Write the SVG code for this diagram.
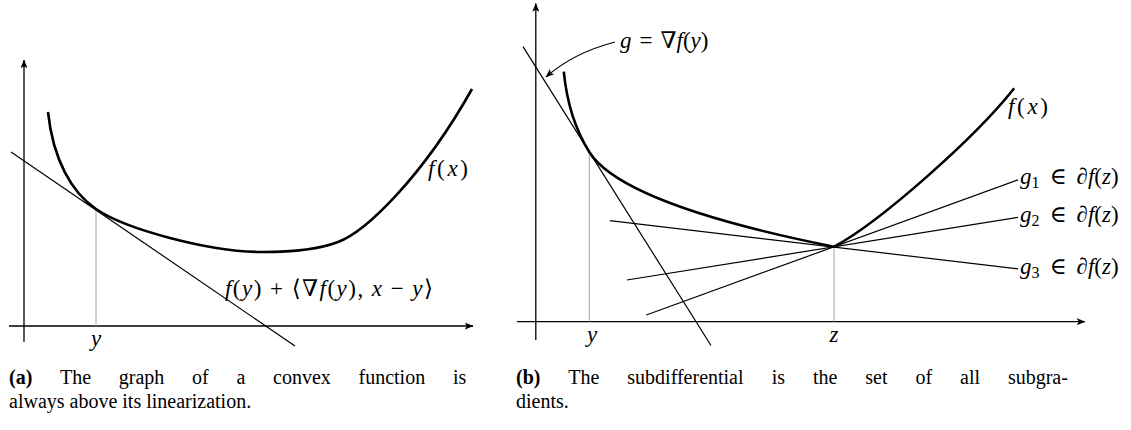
<svg xmlns="http://www.w3.org/2000/svg" width="1131" height="430" viewBox="0 0 1131 430">
<style>
.ax{stroke:#000;stroke-width:1.3;fill:none}
.cv{stroke:#000;stroke-width:2.6;fill:none}
.ln{stroke:#000;stroke-width:1.2;fill:none}
.gr{stroke:#9a9a9a;stroke-width:0.9;fill:none}
.m{font-family:"Liberation Serif","DejaVu Serif",serif;font-size:23px;fill:#000}
.i{font-style:italic}
.sub{font-size:16px}
.cap{font-family:"Liberation Serif","DejaVu Serif",serif;font-size:20px;fill:#000}
.b{font-weight:bold}
</style>
<defs>
<marker id="ah" viewBox="0 0 10 8" refX="9.5" refY="4" markerWidth="9" markerHeight="7" orient="auto" markerUnits="userSpaceOnUse">
<path d="M0,0 L10,4 L0,8 L2.5,4 z" fill="#000"/>
</marker>
</defs>

<g id="panel-a">
  <g id="a-axes">
    <line class="ax" x1="9" y1="326" x2="473" y2="326" marker-end="url(#ah)"/>
    <line class="ax" x1="24" y1="342" x2="24" y2="60" marker-end="url(#ah)"/>
  </g>
  <g id="a-connectors">
    <line class="gr" x1="96" y1="209" x2="96" y2="326"/>
    <line class="ln" x1="11" y1="152" x2="295" y2="346"/>
  </g>
  <g id="a-curve">
    <path class="cv" d="M48,112 C53,160 72,192.6 96,209 C126,229.5 210,252 263,252 C300,252 325,247 338,242 C365,232 422,178 472,89"/>
  </g>
  <g id="a-labels">
    <text class="m" x="428" y="176" textLength="40" lengthAdjust="spacing"><tspan class="i">f</tspan>(<tspan class="i">x</tspan>)</text>
    <text class="m" x="225" y="296" textLength="208" lengthAdjust="spacing"><tspan class="i">f</tspan>(<tspan class="i">y</tspan>) + ⟨∇<tspan class="i">f</tspan>(<tspan class="i">y</tspan>), <tspan class="i">x</tspan> − <tspan class="i">y</tspan>⟩</text>
    <text class="m i" x="96" y="346" text-anchor="middle">y</text>
  </g>
  <g id="a-caption">
    <text class="cap" y="384"><tspan x="9" class="b">(a)</tspan><tspan x="60">The</tspan><tspan x="118.8">graph</tspan><tspan x="192">of</tspan><tspan x="236.4">a</tspan><tspan x="273">convex</tspan><tspan x="358.5">function</tspan><tspan x="452.9">is</tspan></text>
    <text class="cap" x="9" y="408">always above its linearization.</text>
  </g>
</g>

<g id="panel-b">
  <g id="b-axes">
    <line class="ax" x1="517" y1="321.7" x2="1085" y2="321.7" marker-end="url(#ah)"/>
    <line class="ax" x1="535.8" y1="340" x2="535.8" y2="3.5" marker-end="url(#ah)"/>
  </g>
  <g id="b-connectors">
    <line class="gr" x1="589.3" y1="152" x2="589.3" y2="321.7"/>
    <line class="gr" x1="834.1" y1="246.7" x2="834.1" y2="321.7"/>
    <line class="ln" x1="523" y1="46.6" x2="711" y2="345.5"/>
    <line class="ln" x1="646.3" y1="315" x2="1018" y2="179.9"/>
    <line class="ln" x1="626.8" y1="280" x2="1018" y2="217.4"/>
    <line class="ln" x1="609.8" y1="220.7" x2="1018" y2="268.8"/>
    <path class="ln" d="M615,42 Q573,53 546,77" marker-end="url(#ah)"/>
  </g>
  <g id="b-curve">
    <path class="cv" d="M563.8,71.7 C567,105 577.3,132.9 589.3,152 C614.3,191.75 714,222.7 834.1,246.7 C880,222 975,138 1014.2,88.3"/>
  </g>
  <g id="b-labels">
    <text class="m" x="620" y="48"><tspan class="i">g</tspan><tspan dx="8">=</tspan><tspan dx="8">∇</tspan><tspan class="i">f</tspan>(<tspan class="i">y</tspan>)</text>
    <text class="m" x="1008" y="114" textLength="40" lengthAdjust="spacing"><tspan class="i">f</tspan>(<tspan class="i">x</tspan>)</text>
    <text class="m" x="1020" y="184"><tspan class="i">g</tspan><tspan class="sub" dy="4">1</tspan><tspan dy="-4" dx="10">∈</tspan><tspan dx="10">∂</tspan><tspan class="i">f</tspan>(<tspan class="i">z</tspan>)</text>
    <text class="m" x="1020" y="222"><tspan class="i">g</tspan><tspan class="sub" dy="4">2</tspan><tspan dy="-4" dx="10">∈</tspan><tspan dx="10">∂</tspan><tspan class="i">f</tspan>(<tspan class="i">z</tspan>)</text>
    <text class="m" x="1020" y="274"><tspan class="i">g</tspan><tspan class="sub" dy="4">3</tspan><tspan dy="-4" dx="10">∈</tspan><tspan dx="10">∂</tspan><tspan class="i">f</tspan>(<tspan class="i">z</tspan>)</text>
    <text class="m i" x="592" y="342" text-anchor="middle">y</text>
    <text class="m i" x="834" y="342" text-anchor="middle">z</text>
  </g>
  <g id="b-caption">
    <text class="cap" y="384"><tspan x="516" class="b">(b)</tspan><tspan x="568.3">The</tspan><tspan x="627.3">subdifferential</tspan><tspan x="771.8">is</tspan><tspan x="813">the</tspan><tspan x="865.3">set</tspan><tspan x="915.4">of</tspan><tspan x="960">all</tspan><tspan x="1007.9">subgra-</tspan></text>
    <text class="cap" x="516" y="408">dients.</text>
  </g>
</g>
</svg>
